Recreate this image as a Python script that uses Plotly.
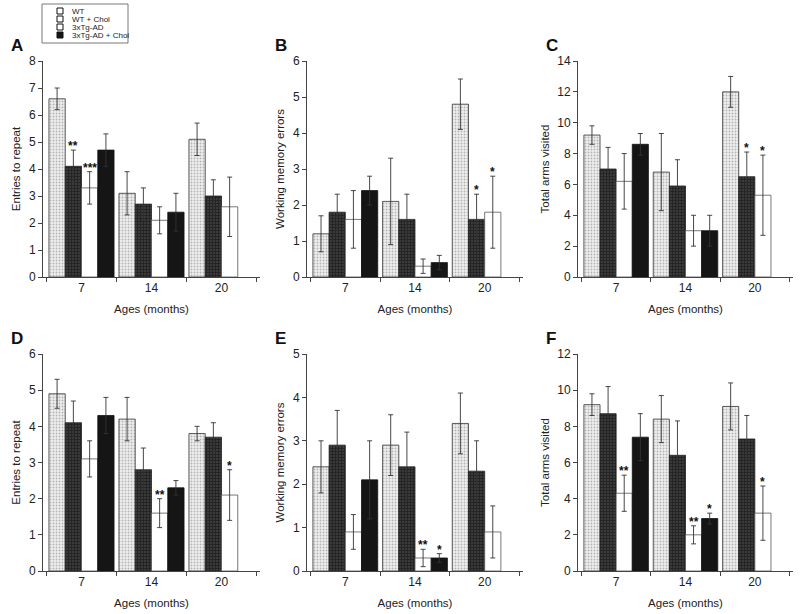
import plotly.graph_objects as go

W, H = 800, 614

ages = ["7", "14", "20"]
series = ["WT", "WT + Chol", "3xTg-AD", "3xTg-AD + Chol"]

# Panel A: Entries to repeat (top)
A_vals = [[6.6, 3.1, 5.1], [4.1, 2.7, 3.0], [3.3, 2.1, 2.6], [4.7, 2.4, None]]
A_errs = [[0.4, 0.8, 0.6], [0.6, 0.6, 0.6], [0.6, 0.5, 1.1], [0.6, 0.7, None]]
# Panel B: Working memory errors (top)
B_vals = [[1.2, 2.1, 4.8], [1.8, 1.6, 1.6], [1.6, 0.3, 1.8], [2.4, 0.4, None]]
B_errs = [[0.5, 1.2, 0.7], [0.5, 0.7, 0.7], [0.8, 0.2, 1.0], [0.4, 0.2, None]]
# Panel C: Total arms visited (top)
C_vals = [[9.2, 6.8, 12.0], [7.0, 5.9, 6.5], [6.2, 3.0, 5.3], [8.6, 3.0, None]]
C_errs = [[0.6, 2.5, 1.0], [1.4, 1.7, 1.6], [1.8, 1.0, 2.6], [0.7, 1.0, None]]
# Panel D: Entries to repeat (bottom)
D_vals = [[4.9, 4.2, 3.8], [4.1, 2.8, 3.7], [3.1, 1.6, 2.1], [4.3, 2.3, None]]
D_errs = [[0.4, 0.6, 0.2], [0.6, 0.6, 0.4], [0.5, 0.4, 0.7], [0.5, 0.2, None]]
# Panel E: Working memory errors (bottom)
E_vals = [[2.4, 2.9, 3.4], [2.9, 2.4, 2.3], [0.9, 0.3, 0.9], [2.1, 0.3, None]]
E_errs = [[0.6, 0.7, 0.7], [0.8, 0.8, 0.7], [0.4, 0.2, 0.6], [0.9, 0.1, None]]
# Panel F: Total arms visited (bottom)
F_vals = [[9.2, 8.4, 9.1], [8.7, 6.4, 7.3], [4.3, 2.0, 3.2], [7.4, 2.9, None]]
F_errs = [[0.6, 1.3, 1.3], [1.5, 1.9, 1.3], [1.0, 0.5, 1.5], [1.3, 0.3, None]]

# significance marks: (series index, age index, label)
A_stars = [(1, 0, "**"), (2, 0, "***")]
B_stars = [(1, 2, "*"), (2, 2, "*")]
C_stars = [(1, 2, "*"), (2, 2, "*")]
D_stars = [(2, 1, "**"), (2, 2, "*")]
E_stars = [(2, 1, "**"), (3, 1, "*")]
F_stars = [(2, 0, "**"), (2, 1, "**"), (3, 1, "*"), (2, 2, "*")]

panels = [
    ("A", A_vals, A_errs, A_stars, "Entries to repeat", 8, 1),
    ("B", B_vals, B_errs, B_stars, "Working memory errors", 6, 1),
    ("C", C_vals, C_errs, C_stars, "Total arms visited", 14, 2),
    ("D", D_vals, D_errs, D_stars, "Entries to repeat", 6, 1),
    ("E", E_vals, E_errs, E_stars, "Working memory errors", 5, 1),
    ("F", F_vals, F_errs, F_stars, "Total arms visited", 12, 2),
]

# pixel layout of plot areas (x0, x1, ytop, ybottom)
cols = [(43, 260), (307, 523), (578, 793)]
rows = [(61, 277), (354, 571)]

def px(x):
    return x / W

def py(y):
    return 1 - y / H

FONT = "Arial, Liberation Sans, sans-serif"
TXT = "#222"
AX = "#444"

styles = [
    dict(pattern=dict(shape=".", fgcolor="#7a7a7a", bgcolor="#eeeeee", size=3, solidity=0.3),
         line=dict(color="#333", width=0.8)),
    dict(pattern=dict(shape="+", fgcolor="#0a0a0a", bgcolor="#3a3a3a", size=3, solidity=0.5),
         line=dict(color="#222", width=0.8)),
    dict(color="white", line=dict(color="#555", width=0.8)),
    dict(color="#151515", line=dict(color="#111", width=0.8)),
]

fig = go.Figure()
annotations = []
shapes = []

NB = 4
bargap = 0.07
bw = (1 - bargap) / NB

for idx, (letter, vals, errs, stars, ytitle, ymax, dtick) in enumerate(panels):
    r, c = divmod(idx, 3)
    x0, x1 = cols[c]
    yt, yb = rows[r]
    n = idx + 1
    xa = "x" if n == 1 else f"x{n}"
    ya = "y" if n == 1 else f"y{n}"
    for s in range(NB):
        st = styles[s]
        marker = dict(line=st["line"])
        if "pattern" in st:
            marker["pattern"] = st["pattern"]
            marker["color"] = st["pattern"]["bgcolor"]
        else:
            marker["color"] = st["color"]
        fig.add_trace(go.Bar(
            x=ages, y=vals[s], name=series[s], xaxis=xa, yaxis=ya,
            marker=marker, showlegend=False, offsetgroup=str(s),
            error_y=dict(type="data", array=errs[s], color="#333",
                         thickness=0.9, width=2.5),
        ))
    xkey = "xaxis" if n == 1 else f"xaxis{n}"
    ykey = "yaxis" if n == 1 else f"yaxis{n}"
    fig.layout[xkey] = dict(
        domain=[px(x0), px(x1)], anchor=ya, type="category",
        categoryorder="array", categoryarray=ages, automargin=False,
        range=[-0.55, 2.55], tickson="boundaries", ticks="outside",
        ticklen=4, tickcolor=AX, showline=True, linecolor=AX, linewidth=1,
        showgrid=False, zeroline=False,
        tickfont=dict(family=FONT, size=12, color=TXT),
        title=dict(text="Ages (months)", font=dict(family=FONT, size=11.5, color=TXT), standoff=10),
    )
    fig.layout[ykey] = dict(
        domain=[py(yb), py(yt)], anchor=xa, range=[0, ymax], dtick=dtick,
        automargin=False,
        ticks="outside", ticklen=4, tickcolor=AX, showline=True, linecolor=AX,
        linewidth=1, showgrid=False, zeroline=False,
        tickfont=dict(family=FONT, size=12, color=TXT),
        title=dict(text=ytitle, font=dict(family=FONT, size=11.5, color=TXT), standoff=5),
    )
    # panel letter
    annotations.append(dict(
        text=f"<b>{letter}</b>", xref="paper", yref="paper",
        x=px(x0 - 34), y=py(yt - 16), xanchor="left", yanchor="middle",
        showarrow=False, font=dict(family=FONT, size=17, color="#111"),
    ))
    # significance stars
    for s, g, lab in stars:
        xpos = g - (1 - bargap) / 2 + bw * (s + 0.5)
        annotations.append(dict(
            text=f"<b>{lab}</b>", xref=xa, yref=ya, x=xpos,
            y=vals[s][g] + errs[s][g], xanchor="center", yanchor="bottom",
            yshift=-5, showarrow=False,
            font=dict(family=FONT, size=12, color="#111"),
        ))

# legend box (drawn manually)
shapes.append(dict(type="rect", xref="paper", yref="paper",
                   x0=px(42), x1=px(128), y0=py(43), y1=py(4),
                   line=dict(color="#555", width=0.8), fillcolor="white"))
leg_rows = [11, 19, 27, 35]
leg_fill = ["white", "white", "white", "#151515"]
for i, lab in enumerate(series):
    yc = leg_rows[i]
    shapes.append(dict(type="rect", xref="paper", yref="paper",
                       x0=px(57), x1=px(63), y0=py(yc + 3), y1=py(yc - 3),
                       line=dict(color="#111", width=1), fillcolor=leg_fill[i]))
    annotations.append(dict(text=lab, xref="paper", yref="paper",
                            x=px(70), y=py(yc), xanchor="left", yanchor="middle",
                            showarrow=False,
                            font=dict(family=FONT, size=8, color=TXT)))

fig.update_layout(
    width=W, height=H, margin=dict(l=0, r=0, t=0, b=0),
    paper_bgcolor="white", plot_bgcolor="white",
    barmode="group", bargap=bargap, bargroupgap=0,
    annotations=annotations, shapes=shapes, showlegend=False,
    font=dict(family=FONT, color=TXT),
)

fig.write_html("out.html", config={"displayModeBar": False},
               post_script="document.body.style.margin='0';document.body.style.overflow='hidden';")
